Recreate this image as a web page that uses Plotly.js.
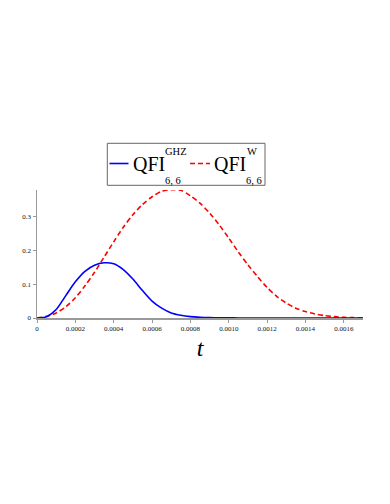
<!DOCTYPE html>
<html><head><meta charset="utf-8">
<script src="https://cdn.plot.ly/plotly-3.0.1.min.js"></script>
<style>html,body{margin:0;padding:0;background:#fff}</style>
</head><body><div id="chart" style="width:390px;height:504px"></div>
<script>
// time samples (units of 1e-4)
var tScaled = [0,0.5,1,1.5,2,2.5,3,3.5,4,4.5,5,5.5,6,6.5,7,7.5,8,8.5,9,9.5,10,10.5,11,11.5,12,12.5,13,13.5,14,14.5,15,15.5,16,16.5,17];
var qfiGHZ = [0,0.004,0.025,0.066,0.107,0.138,0.156,0.163,0.160,0.143,0.115,0.081,0.050,0.029,0.015,0.008,0.004,0.002,0.001,0.0005,0.0003,0.0002,0.0001,0,0,0,0,0,0,0,0,0,0,0,0];
var qfiW = [0,0.005,0.015,0.033,0.060,0.095,0.135,0.180,0.225,0.268,0.305,0.335,0.358,0.374,0.379,0.377,0.361,0.339,0.310,0.275,0.236,0.195,0.157,0.122,0.090,0.064,0.044,0.029,0.019,0.012,0.007,0.004,0.002,0.001,0.0005];
var xTickVals = [0,0.0002,0.0004,0.0006,0.0008,0.0010,0.0012,0.0014,0.0016];
var xTickText = ['0','0.0002','0.0004','0.0006','0.0008','0.0010','0.0012','0.0014','0.0016'];
var yTickVals = [0,0.1,0.2,0.3];
var yTickText = ['0','0.1','0.2','0.3'];

var t = tScaled.map(function(v){return v*1e-4;});
var serif = "Liberation Serif, DejaVu Serif, serif";

var traces = [
  {x:t, y:qfiW, type:'scatter', mode:'lines', line:{color:'#ff0000', width:1.6, dash:'5px,3px', shape:'spline', smoothing:0.8}, showlegend:false, hoverinfo:'none'},
  {x:t, y:qfiGHZ, type:'scatter', mode:'lines', line:{color:'#0000ff', width:1.6, shape:'spline', smoothing:0.8}, showlegend:false, hoverinfo:'none'}
];

var L = 37, R = 363, T = 190, B = 318;
function px(x){return (x-L)/(R-L);}
function py(y){return (B-y)/(B-T);}

var layout = {
  width:390, height:504,
  margin:{l:L, r:390-R, t:T, b:504-B, pad:0},
  paper_bgcolor:'#fff', plot_bgcolor:'#fff',
  font:{family:serif, color:'#111', size:7},
  xaxis:{range:[0,0.0017], tickvals:xTickVals, ticktext:xTickText, showgrid:false, zeroline:false,
    showline:true, linecolor:'#999', linewidth:1.5, ticks:'outside', ticklen:3, tickcolor:'#999',
    tickfont:{family:serif, size:7, color:'#111'},
    title:{text:'<i>t</i>', font:{family:serif, size:24, color:'#000'}, standoff:7}},
  yaxis:{range:[0,0.378], tickvals:yTickVals, ticktext:yTickText, showgrid:false, zeroline:false,
    showline:true, linecolor:'#999', linewidth:1.5, ticks:'outside', ticklen:3, tickcolor:'#999',
    tickfont:{family:serif, size:7, color:'#111'}},
  shapes:[
    {type:'rect', xref:'paper', yref:'paper', x0:px(107.3), x1:px(265), y0:py(185.3), y1:py(143.3), line:{color:'#666', width:1}},
    {type:'line', xref:'paper', yref:'paper', x0:px(109.5), x1:px(128.5), y0:py(163.5), y1:py(163.5), line:{color:'#0000ff', width:1.6}},
    {type:'line', xref:'paper', yref:'paper', x0:px(190), x1:px(210), y0:py(163.5), y1:py(163.5), line:{color:'#ff0000', width:1.6, dash:'5px,3px'}}
  ],
  annotations:[
    {xref:'paper', yref:'paper', x:px(130.5), y:py(164), xanchor:'left', yanchor:'middle', text:'QFI', showarrow:false, font:{family:serif, size:20, color:'#000'}},
    {xref:'paper', yref:'paper', x:px(163), y:py(151.5), xanchor:'left', yanchor:'middle', text:'GHZ', showarrow:false, font:{family:serif, size:10.5, color:'#000'}},
    {xref:'paper', yref:'paper', x:px(163), y:py(180), xanchor:'left', yanchor:'middle', text:'6, 6', showarrow:false, font:{family:serif, size:10.5, color:'#000'}},
    {xref:'paper', yref:'paper', x:px(211.5), y:py(164), xanchor:'left', yanchor:'middle', text:'QFI', showarrow:false, font:{family:serif, size:20, color:'#000'}},
    {xref:'paper', yref:'paper', x:px(245), y:py(151.5), xanchor:'left', yanchor:'middle', text:'W', showarrow:false, font:{family:serif, size:10.5, color:'#000'}},
    {xref:'paper', yref:'paper', x:px(244), y:py(180), xanchor:'left', yanchor:'middle', text:'6, 6', showarrow:false, font:{family:serif, size:10.5, color:'#000'}}
  ]
};
Plotly.newPlot('chart', traces, layout, {displayModeBar:false, staticPlot:true});
</script></body></html>
